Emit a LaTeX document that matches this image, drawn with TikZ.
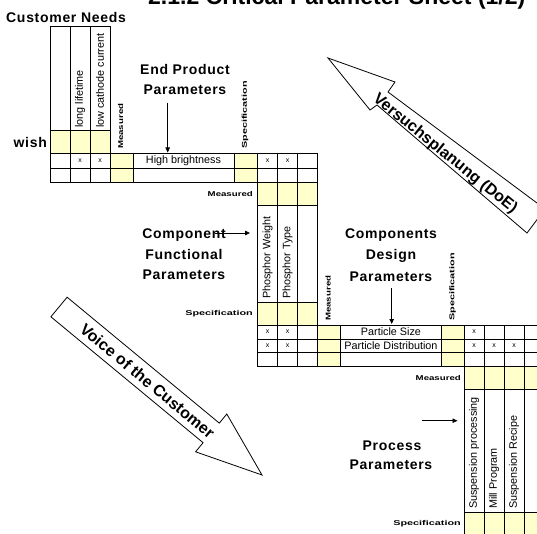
\documentclass[tikz,border=0pt]{standalone}
\usepackage{fontspec}
\usepackage{graphicx}
\setmainfont{Liberation Sans}
\usetikzlibrary{arrows.meta}
\definecolor{cellyellow}{HTML}{FFFFCC}
% stretched tiny bold tags used beside the matrices
\newcommand\measlabel{\scalebox{1.38}[1]{Measured}}
\newcommand\speclabel{\scalebox{1.55}[1]{Specification}}

\begin{document}
\begin{tikzpicture}[x=1pt,y=-1pt,
  gridline/.style={line width=0.9pt},
  yel/.style={fill=cellyellow},
  cell/.style={font=\fontsize{10.8}{12}\selectfont, inner sep=0pt},
  vlab/.style={font=\fontsize{10.8}{12}\selectfont, rotate=90, anchor=west, inner sep=0pt},
  mk/.style={font=\fontsize{7}{7}\selectfont, inner sep=0pt},
  head/.style={font={\fontsize{14}{17}\selectfont\bfseries\addfontfeature{LetterSpace=5}}, inner sep=0pt, anchor=base},
  tag/.style={font={\fontsize{7}{7}\selectfont\bfseries}, inner sep=0pt},
  vtag/.style={tag, rotate=90, anchor=west},
  htag/.style={tag, anchor=east},
  ptr/.style={-{Triangle[length=5pt,width=4.5pt]}, line width=0.8pt},
  blockarrow/.style={draw, fill=white, line width=0.8pt, line join=miter},
  arrowtext/.style={font={\fontsize{16}{16}\selectfont\bfseries}, inner sep=0pt},
]
\clip (0,0) rectangle (537,534);

% ---------- title (runs off the top edge)
\node[font=\fontsize{23}{26}\selectfont\bfseries, anchor=base west, inner sep=0pt] (title) at (148,5) {2.1.2 Critical Parameter Sheet (1/2)};

% ---------- block arrows
\draw[blockarrow] (328,58) -- (395,82) -- (388,92) -- (545,209) -- (527,233) -- (377,105) -- (370,110) -- cycle;
\node[arrowtext, rotate=-39] (doe) at (445,154) {Versuchsplanung (DoE)};
\draw[blockarrow] (67.1,297.2) -- (219.3,423.1) -- (226.8,414.0) -- (262,475) -- (195.6,451.8) -- (203.1,442.7) -- (50.9,316.8) -- cycle;
\node[arrowtext, rotate=-39.6] (voc) at (147.5,381) {Voice of the Customer};

% ---------- yellow cells
\fill[yel] (50,130) rectangle (110,153);
\fill[yel] (110,153) rectangle (133,182);
\fill[yel] (234,153) rectangle (257,182);
\fill[yel] (257,182) rectangle (317,205);
\fill[yel] (257,302) rectangle (317,325);
\fill[yel] (317,325) rectangle (340,366);
\fill[yel] (441.5,325) rectangle (464,366);
\fill[yel] (464,366) rectangle (544,389);
\fill[yel] (464,512) rectangle (544,540);

% ---------- grid: customer needs / end product
\draw[gridline] (50,26) -- (110,26);
\foreach \x in {50,70,90,110} \draw[gridline] (\x,26) -- (\x,182);
\draw[gridline] (50,130) -- (110,130);
\foreach \y in {153,168,182} \draw[gridline] (50,\y) -- (317,\y);
\foreach \x in {133,234} \draw[gridline] (\x,153) -- (\x,182);
% component functional
\foreach \x in {257,277,297,317} \draw[gridline] (\x,153) -- (\x,366);
\foreach \y in {205,302} \draw[gridline] (257,\y) -- (317,\y);
\foreach \y in {325,339,352,366} \draw[gridline] (257,\y) -- (544,\y);
% components design
\foreach \x in {340,441.5} \draw[gridline] (\x,325) -- (\x,366);
\foreach \x in {464,484,504,524} \draw[gridline] (\x,325) -- (\x,540);
% process
\foreach \y in {389,512} \draw[gridline] (464,\y) -- (544,\y);

% ---------- matrix texts
\node[vlab] (cn1) at (80,128) {long lifetime};
\node[vlab] (cn2) at (100,128) {low cathode current};
\node[cell] (hb) at (183.5,160.5) {High brightness};
\node[vlab] (pw) at (267.5,299) {Phosphor Weight};
\node[vlab] (pt) at (287.5,299) {Phosphor Type};
\node[cell] (ps) at (391,332) {Particle Size};
\node[cell] (pd) at (391,345.5) {Particle Distribution};
\node[vlab] (sp) at (474,509) {Suspension processing};
\node[vlab] (mp) at (494,509) {Mill Program};
\node[vlab] (sr) at (514,509) {Suspension Recipe};

% x marks
\node[mk] (x1) at (80,160.5) {x};
\node[mk] (x2) at (100,160.5) {x};
\node[mk] (x3) at (267.5,160.5) {x};
\node[mk] (x4) at (287.5,160.5) {x};
\node[mk] (x5) at (267.5,332) {x};
\node[mk] (x6) at (287.5,332) {x};
\node[mk] (x7) at (474,332) {x};
\node[mk] (x8) at (267.5,345.5) {x};
\node[mk] (x9) at (287.5,345.5) {x};
\node[mk] (x10) at (474,345.5) {x};
\node[mk] (x11) at (494,345.5) {x};
\node[mk] (x12) at (514,345.5) {x};

% Measured / Specification tags
\node[vtag] (m1) at (120.5,149) {\measlabel};
\node[vtag] (s1) at (245,149) {\speclabel};
\node[vtag] (m2) at (328,321) {\measlabel};
\node[vtag] (s2) at (452.5,321) {\speclabel};
\node[htag] (m3) at (253,193.5) {\measlabel};
\node[htag] (s3) at (253,313.5) {\speclabel};
\node[htag] (m4) at (461,377.5) {\measlabel};
\node[htag] (s4) at (461,524) {\speclabel};

% ---------- headings
\node[head, anchor=base west] (cneeds) at (6,22.5) {Customer Needs};
\node[head, anchor=base east] (wish) at (47,148) {wish};

\node[head] (ep1) at (185,75) {End Product};
\node[head] (ep2) at (185,95) {Parameters};
\coordinate (epFrom) at (167.7,103);
\coordinate (epTo) at (167.7,152.5);
\draw[ptr] (epFrom) -- (epTo);

\node[head] (cf1) at (184,238.5) {Component};
\node[head] (cf2) at (184,259) {Functional};
\node[head] (cf3) at (184,279.5) {Parameters};
\coordinate (cfFrom) at (215,233);
\coordinate (cfTo) at (250,233);
\draw[ptr] (cfFrom) -- (cfTo);

\node[head] (cd1) at (391,239) {Components};
\node[head] (cd2) at (391,259.5) {Design};
\node[head] (cd3) at (391,281) {Parameters};
\coordinate (cdFrom) at (391.7,288);
\coordinate (cdTo) at (391.7,324);
\draw[ptr] (cdFrom) -- (cdTo);

\node[head] (pp1) at (392,450) {Process};
\node[head] (pp2) at (391,469.5) {Parameters};
\coordinate (ppFrom) at (421.7,420.7);
\coordinate (ppTo) at (457.5,420.7);
\draw[ptr] (ppFrom) -- (ppTo);
\end{tikzpicture}
\end{document}
